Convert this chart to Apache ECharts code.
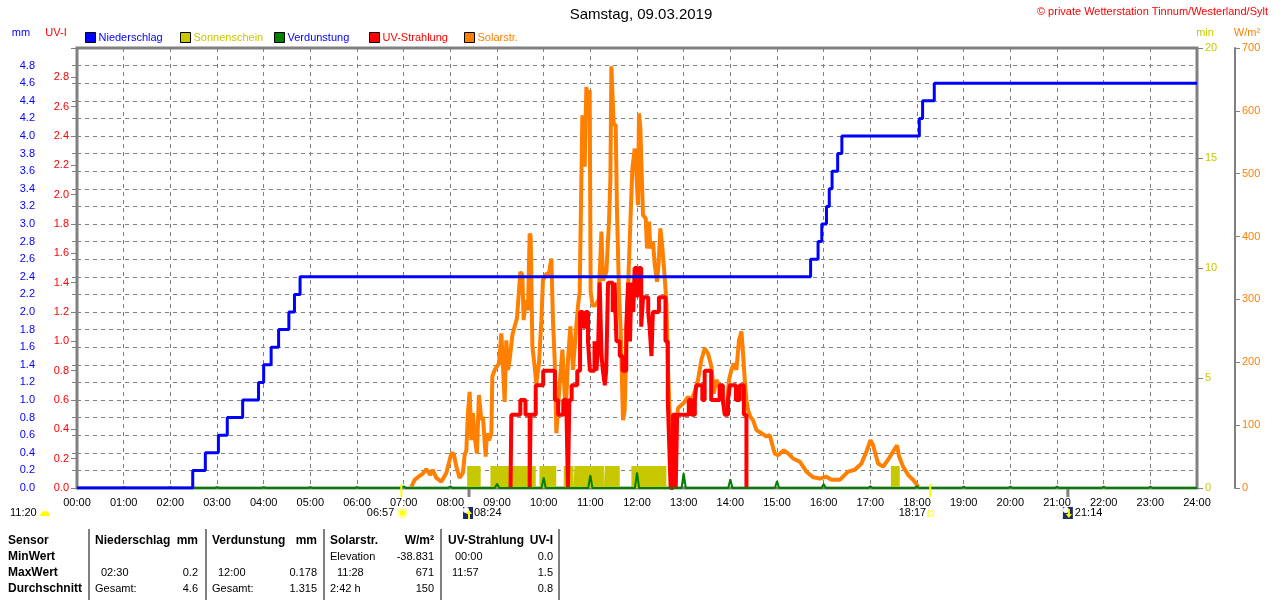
<!DOCTYPE html>
<html><head><meta charset="utf-8">
<script src="https://cdn.jsdelivr.net/npm/echarts@6/dist/echarts.min.js"></script>
<style>html,body{margin:0;padding:0;background:#fff}#c{width:1280px;height:600px}</style>
</head><body><div id="c"></div>
<script>
const FONT = '"Liberation Sans", Arial, sans-serif';

// ---- tick labels ----
const hourLabels = ['00:00','01:00','02:00','03:00','04:00','05:00','06:00','07:00','08:00','09:00','10:00','11:00','12:00',
  '13:00','14:00','15:00','16:00','17:00','18:00','19:00','20:00','21:00','22:00','23:00','24:00'];

// ---- Niederschlag (cumulative mm), [hour, mm] ----
const rainData = [[0,0],[2.48,0.2],[2.75,0.4],[3.03,0.6],[3.22,0.8],[3.55,1.0],[3.89,1.2],[4.0,1.4],[4.16,1.6],
  [4.32,1.8],[4.54,2.0],[4.66,2.2],[4.78,2.4],[15.72,2.6],[15.88,2.8],[15.96,3.0],[16.06,3.2],[16.12,3.4],
  [16.18,3.6],[16.30,3.8],[16.39,4.0],[18.05,4.2],[18.12,4.4],[18.37,4.6],[24,4.6]];

// ---- Sonnenschein (min), [hour, min] ----
const sunData = [[0,0],[8.36,1],[8.65,0],[8.86,1],[9.83,0],[9.91,1],[10.27,0],[10.43,1],[10.64,0],[10.66,1],
  [11.29,0],[11.31,1],[11.63,0],[11.88,1],[12.63,0],[17.44,1],[17.63,0],[24,0]];

// ---- Verdunstung (mm per hour) ----
const evapHours = [1,2,3,4,5,6,7,8,9,10,11,12,13,14,15,16,17,18,19,20,21,22,23];
const evapValues = [0.01,0.01,0.01,0.01,0.01,0.01,0.02,0.02,0.05,0.12,0.145,0.178,0.17,0.10,0.08,0.045,0.02,0.02,0.015,0.015,0.015,0.015,0.015];

// ---- UV-Strahlung (UV-I), [hour, value] ----
const uvData = [[9.29,0],[9.307,0.5],[9.50,0.6],[9.61,0.5],[9.70,0],[9.72,0.5],[9.83,0.7],[9.99,0.8],[10.24,0.6],
  [10.31,0.5],[10.42,0.6],[10.49,0.5],[10.52,0],[10.55,0.6],[10.60,0.7],[10.72,0.8],[10.78,1.2],[10.84,1.1],
  [10.90,1.2],[10.95,1.0],[10.99,0.8],[11.09,1.0],[11.13,0.8],[11.17,1.0],[11.20,1.4],[11.24,0.9],[11.27,0.8],
  [11.31,0.7],[11.34,0.8],[11.38,1.4],[11.48,1.2],[11.52,1.4],[11.56,1.0],[11.63,0.9],[11.69,0.8],[11.77,1.1],
  [11.81,1.4],[11.85,1.0],[11.88,1.4],[11.92,1.2],[11.95,1.5],[12.0,1.3],[12.04,1.5],[12.09,1.1],[12.13,1.3],
  [12.24,1.2],[12.27,1.1],[12.31,0.9],[12.34,1.2],[12.47,1.3],[12.61,1.0],[12.66,0.6],[12.70,0.2],[12.72,0],
  [12.77,0.5],[12.83,0],[12.86,0.5],[13.11,0.6],[13.17,0.5],[13.24,0.6],[13.27,0.7],[13.40,0.6],[13.45,0.8],
  [13.59,0.6],[13.77,0.7],[13.84,0.6],[13.88,0.5],[13.95,0.6],[13.99,0.7],[14.12,0.6],[14.20,0.7],[14.29,0.5],[14.345,0]];

// ---- Solarstrahlung (W/m²), [hour, value] ----
const solarData = [[7.164,2],[7.235,13],[7.32,18],[7.413,23],[7.486,30],[7.571,21],[7.621,29],[7.70,16],[7.807,10],
  [7.914,24],[8.021,55],[8.071,55],[8.129,34],[8.199,16],[8.27,24],[8.306,52],[8.343,60],[8.377,119],[8.414,153],
  [8.45,76],[8.484,119],[8.521,82],[8.57,55],[8.613,148],[8.665,108],[8.699,113],[8.757,50],[8.785,87],[8.827,76],
  [8.879,87],[8.9,177],[8.95,188],[9.042,198],[9.093,246],[9.128,193],[9.164,137],[9.20,235],[9.235,188],[9.271,204],
  [9.329,243],[9.378,257],[9.428,270],[9.47,267],[9.50,344],[9.543,339],[9.571,267],[9.614,299],[9.664,283],
  [9.70,405],[9.721,400],[9.758,225],[9.807,193],[9.843,166],[9.899,198],[9.951,267],[9.985,331],[10.058,341],
  [10.114,341],[10.165,365],[10.199,267],[10.236,204],[10.272,87],[10.328,150],[10.401,220],[10.472,119],
  [10.521,204],[10.572,257],[10.628,188],[10.686,246],[10.735,289],[10.772,312],[10.829,593],[10.879,511],
  [10.915,638],[10.95,612],[10.986,633],[11.007,312],[11.05,290],[11.115,291],[11.18,300],[11.237,408],[11.271,330],
  [11.344,344],[11.40,424],[11.43,493],[11.451,671],[11.50,578],[11.543,578],[11.571,440],[11.614,312],[11.65,251],
  [11.70,108],[11.736,124],[11.779,251],[11.822,347],[11.865,437],[11.901,508],[11.951,540],[11.987,503],[12.021,450],
  [12.043,596],[12.073,572],[12.094,514],[12.129,434],[12.187,429],[12.214,381],[12.257,424],[12.287,381],[12.343,392],
  [12.38,355],[12.429,328],[12.465,360],[12.501,413],[12.544,381],[12.579,350],[12.615,312],[12.63,294],[12.665,188],
  [12.70,119],[12.737,92],[12.808,76],[12.879,127],[12.952,132],[13.022,137],[13.093,145],[13.166,140],[13.237,153],
  [13.307,172],[13.38,204],[13.451,222],[13.522,214],[13.595,193],[13.644,150],[13.702,172],[13.773,161],[13.844,135],
  [13.916,124],[13.972,172],[14.023,188],[14.073,198],[14.13,188],[14.186,235],[14.238,249],[14.272,214],[14.309,172],
  [14.345,140],[14.38,124],[14.431,113],[14.487,108],[14.56,92],[14.667,87],[14.774,82],[14.845,84],[14.902,68],
  [14.952,55],[15.022,52],[15.145,60],[15.237,55],[15.344,47],[15.488,42],[15.631,26],[15.773,17],[15.916,15],
  [16.06,18],[16.167,13],[16.345,13],[16.523,26],[16.667,29],[16.81,39],[16.917,58],[17.003,76],[17.059,68],
  [17.166,39],[17.273,34],[17.38,45],[17.488,58],[17.573,68],[17.616,50],[17.702,34],[17.809,21],[17.916,13],
  [17.99,6],[18.024,2]];

// ---- astronomical times (hours) ----
const sunrise = 6.95, sunset = 18.283, moonrise = 8.4, moonset = 21.233;
const sunriseLabel = '06:57', sunsetLabel = '18:17', moonriseLabel = '08:24', moonsetLabel = '21:14', dayLength = '11:20';

// ---- table header ----
const tableHeader = ['Sensor','Niederschlag','mm','Verdunstung','mm','Solarstr.','W/m²','UV-Strahlung','UV-I'];

// evaporation spikes built from hourly values
const evapData = [[0,0]];
evapHours.forEach((h,i)=>{ evapData.push([h-0.045,0],[h,evapValues[i]],[h+0.045,0]); });
evapData.push([24,0]);

const chart = echarts.init(document.getElementById('c'), null, {renderer:'canvas'});
const grey = '#808080';
const dash = {color: grey, type: [4,4], width: 1};
const fmt1 = (max)=> (v)=> (Math.abs(v-max)<1e-6 ? '' : v.toFixed(1));

const legendDefs = [
  ['Niederschlag','#0000ff',85],['Sonnenschein','#c8c800',180],['Verdunstung','#0000ff',274],
  ['UV-Strahlung','#ff0000',369],['Solarstr.','#ff8000',464]];

chart.setOption({
  animation: false,
  backgroundColor: '#fff',
  textStyle: {fontFamily: FONT},
  grid: {left: 77, right: 83, top: 48, bottom: 112, show: true, borderColor: grey, borderWidth: 3, backgroundColor: 'transparent'},
  legend: legendDefs.map(d=>({
    data: [d[0]], left: d[2], top: 32, icon: 'rect', itemWidth: 10, itemHeight: 10, itemGap: 0,
    padding: 0, selectedMode: false,
    itemStyle: {borderColor: '#000', borderWidth: 1},
    textStyle: {color: d[1], fontSize: 11, fontFamily: FONT, padding: [0,0,0,-2]}
  })),
  xAxis: {
    type: 'value', min: 0, max: 24, interval: 1,
    axisLine: {show: false}, axisTick: {show: false},
    axisLabel: {formatter: v => hourLabels[Math.round(v)], color: '#000', fontSize: 11, fontFamily: FONT, margin: 9},
    splitLine: {show: true, lineStyle: dash}
  },
  yAxis: [
    {type:'value', position:'left', offset: 36, min: 0, max: 5, interval: 0.2,
     axisLine:{show:true, lineStyle:{color: grey, width: 2}},
     axisTick:{show:true, length: 5, lineStyle:{color: grey}},
     axisLabel:{formatter: fmt1(5), color:'#0000ff', fontSize: 11, fontFamily: FONT, margin: 6},
     splitLine:{show:true, lineStyle: dash}},
    {type:'value', position:'left', offset: 0, min: 0, max: 3, interval: 0.2,
     axisLine:{show:false},
     axisTick:{show:true, length: 6, lineStyle:{color: grey}},
     axisLabel:{formatter: fmt1(3), color:'#ff0000', fontSize: 11, fontFamily: FONT, margin: 8},
     splitLine:{show:false}},
    {type:'value', position:'right', offset: 0, min: 0, max: 20, interval: 5,
     axisLine:{show:false},
     axisTick:{show:true, length: 6, lineStyle:{color: grey}},
     axisLabel:{color:'#c8c800', fontSize: 11, fontFamily: FONT, margin: 8},
     splitLine:{show:false}},
    {type:'value', position:'right', offset: 38, min: 0, max: 700, interval: 100,
     axisLine:{show:true, lineStyle:{color: grey, width: 2}},
     axisTick:{show:true, length: 5, lineStyle:{color: grey}},
     axisLabel:{color:'#ff8000', fontSize: 11, fontFamily: FONT, margin: 7},
     splitLine:{show:false}}
  ],
  series: [
    {name:'Sonnenschein', type:'line', yAxisIndex: 2, step:'end', data: sunData, symbol:'none', color:'#c8c800',
     lineStyle:{width:0}, areaStyle:{color:'#c8c800', opacity:1}, z: 1},
    {name:'Solarstr.', type:'line', yAxisIndex: 3, data: solarData, symbol:'none', color:'#ff8000',
     lineStyle:{width:4, color:'#ff8000'}, z: 2},
    {name:'UV-Strahlung', type:'line', yAxisIndex: 1, step:'end', data: uvData, symbol:'none', color:'#ff0000',
     lineStyle:{width:4, color:'#ff0000'}, z: 3},
    {name:'Verdunstung', type:'line', yAxisIndex: 0, data: evapData, symbol:'none', color:'#008000',
     lineStyle:{width:2, color:'#008000'}, z: 4},
    {name:'Niederschlag', type:'line', yAxisIndex: 0, step:'end', data: rainData, symbol:'none', color:'#0000ff',
     lineStyle:{width:3, color:'#0000ff'}, z: 5}
  ]
});

// ---- graphics: titles, axis names, astro markers, table ----
const g = [];
const txt = (text, x, y, fill, font, align) => g.push({type:'text', silent:true, z:100,
  style:{text, x, y, fill, font, textAlign: align||'left', align: align||'left', textVerticalAlign:'middle', verticalAlign:'middle'}});
const F11 = '11px ' + FONT, B12 = 'bold 12px ' + FONT;

txt('Samstag, 09.03.2019', 641, 15, '#000', '15px ' + FONT, 'center');
txt('© private Wetterstation Tinnum/Westerland/Sylt', 1268, 12, '#ff0000', F11, 'right');
txt('mm', 21, 33, '#0000ff', F11, 'center');
txt('UV-I', 56, 33, '#ff0000', F11, 'center');
txt('min', 1205, 33, '#c8c800', F11, 'center');
txt('W/m²', 1247, 33, '#ff8000', F11, 'center');

const px = h => chart.convertToPixel({xAxisIndex: 0}, h);
const yLab = 513;
// sunrise / sunset marks
[sunrise, sunset].forEach(h => g.push({type:'line', silent:true, z:100, shape:{x1:px(h), y1:484, x2:px(h), y2:497}, style:{stroke:'#ffff00', lineWidth:2}}));
[moonrise, moonset].forEach(h => g.push({type:'line', silent:true, z:100, shape:{x1:px(h), y1:489, x2:px(h), y2:497}, style:{stroke:grey, lineWidth:3}}));

// day length
txt(dayLength, 10, yLab, '#000', F11, 'left');
g.push({type:'sector', silent:true, z:100, shape:{cx:45, cy:516, r:5, startAngle:Math.PI, endAngle:2*Math.PI}, style:{fill:'#ffff00'}});
// sunrise
const sr = px(sunrise);
txt(sunriseLabel, sr - 7, yLab, '#000', F11, 'right');
g.push({type:'circle', silent:true, z:100, shape:{cx:sr+1, cy:yLab, r:4}, style:{fill:'#ffff00', stroke:'#ffffa0', lineWidth:3}});
// sunset
const ss = px(sunset);
txt(sunsetLabel, ss - 4, yLab, '#000', F11, 'right');
g.push({type:'rect', silent:true, z:100, shape:{x:ss-2, y:yLab-2, width:5, height:5}, style:{fill:'none', stroke:'#ffff00', lineWidth:1}});
// moon icons
const moonIcon = (cx, up) => {
  g.push({type:'rect', silent:true, z:100, shape:{x:cx-5, y:yLab-6, width:10, height:12}, style:{fill:'#1c2a6c'}});
  g.push({type:'circle', silent:true, z:101, shape:{cx:cx-2, cy:yLab-3, r:3}, style:{fill:'#ffffff'}});
  const pts = up
     ? [[cx+1,yLab-3],[cx+4,yLab+1],[cx+2,yLab+1],[cx+2,yLab+6],[cx,yLab+6],[cx,yLab+1],[cx-2,yLab+1]]
     : [[cx+1,yLab+5],[cx+4,yLab+1],[cx+2,yLab+1],[cx+2,yLab-4],[cx,yLab-4],[cx,yLab+1],[cx-2,yLab+1]];
  g.push({type:'polygon', silent:true, z:102, shape:{points: pts}, style:{fill:'#ffff00'}});
};
const mr = px(moonrise), ms = px(moonset);
moonIcon(mr - 1, true);
txt(moonriseLabel, mr + 5, yLab, '#000', F11, 'left');
moonIcon(ms, false);
txt(moonsetLabel, ms + 7, yLab, '#000', F11, 'left');

// table
[89, 206, 324, 441, 559].forEach(x => g.push({type:'line', silent:true, z:100, shape:{x1:x, y1:529, x2:x, y2:600}, style:{stroke:grey, lineWidth:2}}));
const r1 = 541, r2 = 557, r3 = 573, r4 = 589;
const hdr = tableHeader;
txt(hdr[0], 8, r1, '#000', B12);
txt(hdr[1], 95, r1, '#000', B12); txt(hdr[2], 198, r1, '#000', B12, 'right');
txt(hdr[3], 212, r1, '#000', B12); txt(hdr[4], 317, r1, '#000', B12, 'right');
txt(hdr[5], 330, r1, '#000', B12); txt(hdr[6], 434, r1, '#000', B12, 'right');
txt(hdr[7], 448, r1, '#000', B12); txt(hdr[8], 553, r1, '#000', B12, 'right');
txt('MinWert', 8, r2, '#000', B12);
txt('Elevation', 330, r2, '#000', F11); txt('-38.831', 434, r2, '#000', F11, 'right');
txt('00:00', 455, r2, '#000', F11); txt('0.0', 553, r2, '#000', F11, 'right');
txt('MaxWert', 8, r3, '#000', B12);
txt('02:30', 101, r3, '#000', F11); txt('0.2', 198, r3, '#000', F11, 'right');
txt('12:00', 218, r3, '#000', F11); txt('0.178', 317, r3, '#000', F11, 'right');
txt('11:28', 337, r3, '#000', F11); txt('671', 434, r3, '#000', F11, 'right');
txt('11:57', 452, r3, '#000', F11); txt('1.5', 553, r3, '#000', F11, 'right');
txt('Durchschnitt', 8, r4, '#000', B12);
txt('Gesamt:', 95, r4, '#000', F11); txt('4.6', 198, r4, '#000', F11, 'right');
txt('Gesamt:', 212, r4, '#000', F11); txt('1.315', 317, r4, '#000', F11, 'right');
txt('2:42 h', 330, r4, '#000', F11); txt('150', 434, r4, '#000', F11, 'right');
txt('0.8', 553, r4, '#000', F11, 'right');

chart.setOption({graphic: g});
</script>
</body></html>
